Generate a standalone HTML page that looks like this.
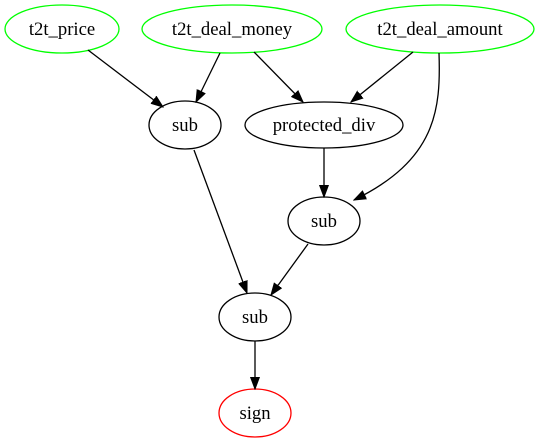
<!DOCTYPE html>
<html><head><style>html,body{margin:0;padding:0;background:#fff}svg{display:block}</style></head>
<body>
<svg width="539" height="443" viewBox="0 0 539 443" xmlns="http://www.w3.org/2000/svg" font-family="'Liberation Serif', 'Times New Roman', serif" font-size="18.67">
<defs>
<marker id="a" markerWidth="13" markerHeight="10" refX="12" refY="5" orient="auto" markerUnits="userSpaceOnUse">
<polygon points="0,0.5 12,5 0,9.5" fill="#000" stroke="#000"/>
</marker>
</defs>
<g fill="none" stroke="#000" stroke-width="1.3">
<ellipse cx="62" cy="29" rx="57" ry="24" stroke="#00ff00"/>
<ellipse cx="232" cy="29" rx="90" ry="24" stroke="#00ff00"/>
<ellipse cx="440" cy="29" rx="94" ry="24" stroke="#00ff00"/>
<ellipse cx="185" cy="125" rx="36" ry="24"/>
<ellipse cx="324" cy="125" rx="79" ry="23"/>
<ellipse cx="324" cy="221" rx="36" ry="24"/>
<ellipse cx="255" cy="317" rx="36" ry="24"/>
<ellipse cx="255" cy="413" rx="36" ry="24" stroke="#ff0000"/>
<path d="M88,50 L163,107" marker-end="url(#a)"/>
<path d="M220,53 L196,102" marker-end="url(#a)"/>
<path d="M254,52 L303,102" marker-end="url(#a)"/>
<path d="M413,52 L351,102" marker-end="url(#a)"/>
<path d="M439,53 C441,110 436,160 354,200" marker-end="url(#a)"/>
<path d="M324,148 L324,197" marker-end="url(#a)"/>
<path d="M194,150 L247,293" marker-end="url(#a)"/>
<path d="M308,244 L271,295" marker-end="url(#a)"/>
<path d="M255,341 L255,389" marker-end="url(#a)"/>
</g>
<g text-anchor="middle" fill="#000">
<text x="62" y="35">t2t_price</text>
<text x="232" y="35">t2t_deal_money</text>
<text x="440" y="35">t2t_deal_amount</text>
<text x="185" y="131">sub</text>
<text x="324" y="131">protected_div</text>
<text x="324" y="227">sub</text>
<text x="255" y="323">sub</text>
<text x="255" y="419">sign</text>
</g>
</svg>
</body></html>
